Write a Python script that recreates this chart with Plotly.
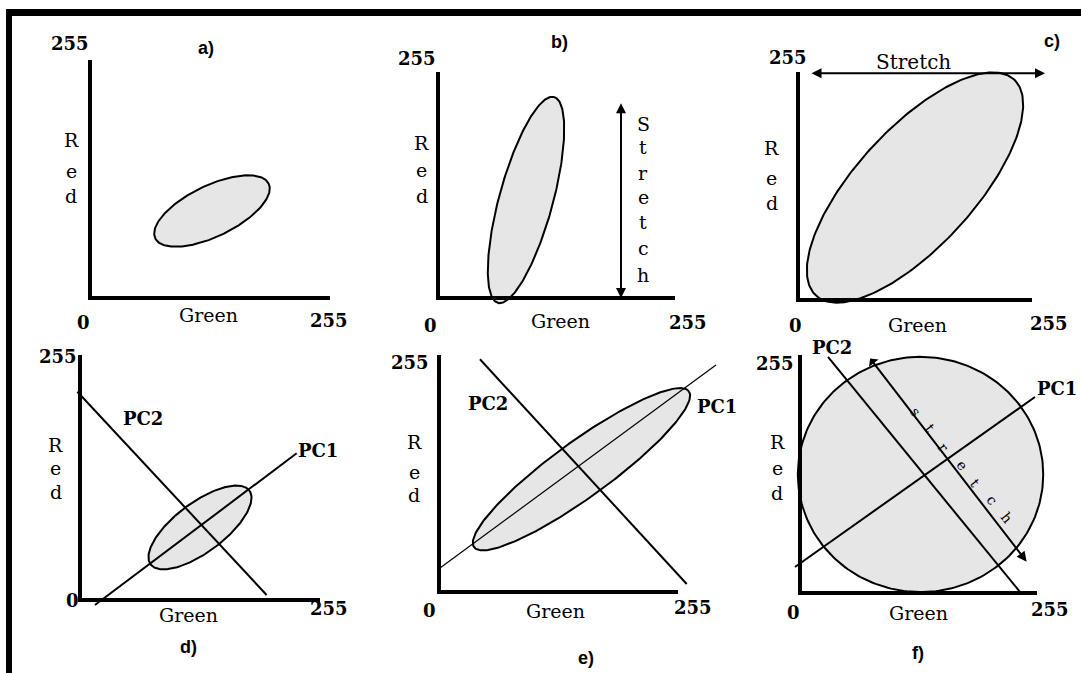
import numpy as np
import plotly.graph_objects as go

W, H = 1081, 673
PANELS = ["a", "b", "c", "d", "e", "f"]

# ---- data (0-255 Green/Red scale) ----
ELL_CX = [129.6, 94.7, 127.5, 127.5, 152.0, 129.7]
ELL_CY = [93.2, 110.6, 125.8, 75.5, 132.1, 127.0]
ELL_A = [67.0, 120.0, 162.0, 65.0, 142.0, 132.0]
ELL_B = [27.3, 29.0, 65.0, 26.0, 30.0, 126.0]
ELL_ANGLE = [26.0, 75.5, 48.5, 36.0, 36.2, 0.0]

PC_PANELS = ["d", "e", "f"]
PC1_X = [[15.9, 230.2], [0.7, 295.5], [-5.4, 252.8]]
PC1_Y = [[-5.2, 152.7], [25.5, 244.2], [27.9, 210.0]]
PC2_X = [[-2.8, 198.3], [43.7, 264.3], [30.1, 236.7]]
PC2_Y = [[216.8, 5.2], [250.4, 8.6], [252.9, 1.1]]

STRETCH_PANELS = ["b", "c", "f"]
STRETCH_X = [[196.9, 196.9], [13.1, 269.2], [74.2, 243.9]]
STRETCH_Y = [[221.5, 0.0], [253.5, 253.5], [252.9, 33.5]]

AXIS_MAX = 255
TICK_MIN_LABEL = "0"
TICK_MAX_LABEL = "255"
X_TITLE = "Green"
Y_TITLE_LETTERS = ["R", "e", "d"]
STRETCH_WORD = "Stretch"

# ---- layout: pixel frames of each panel's axes (x0, x1, y0(bottom), y1(top)) ----
FRAME = {
    "a": (90, 330, 298, 60),
    "b": (438, 675, 298, 72),
    "c": (798, 1032, 300, 72),
    "d": (80, 320, 600, 355),
    "e": (439, 678, 592, 355),
    "f": (800, 1037, 593, 355),
}

# label positions per panel (data units)
LBL = {
    "a": dict(ymax=(-21.2, 272.7), panel=(123.3, 267.9), red_x=-19.7, red_y=[169.3, 136.1, 108.9],
              zero=(-6.4, -26.3), green=(126.4, -17.7), xmax=(253.9, -23.6)),
    "b": dict(ymax=(-22.9, 270.5), panel=(130.2, 289.2), red_x=-17.5, red_y=[174.5, 144.4, 115.3],
              zero=(-7.7, -31.4), green=(132.1, -25.7), xmax=(269.3, -27.6)),
    "c": dict(ymax=(-11.4, 271.2), panel=(276.8, 289.9), red_x=-28.7, red_y=[169.7, 136.1, 108.2],
              zero=(-2.2, -28.9), green=(130.2, -28.0), xmax=(273.5, -26.1)),
    "d": dict(ymax=(-23.9, 253.3), panel=(115.8, -48.6), red_x=-25.7, red_y=[161.3, 137.9, 111.9],
              zero=(-8.0, 0.0), green=(115.1, -15.6), xmax=(264.6, -8.7)),
    "e": dict(ymax=(-30.9, 246.9), panel=(156.6, -71.3), red_x=-26.5, red_y=[160.9, 129.4, 104.4],
              zero=(-10.5, -20.2), green=(123.8, -20.2), xmax=(271.3, -16.7)),
    "f": dict(ymax=(-26.9, 246.1), panel=(127.0, -64.3), red_x=-24.7, red_y=[161.8, 133.9, 107.1],
              zero=(-6.5, -21.4), green=(127.0, -21.4), xmax=(268.9, -18.2)),
}
PC_LABEL_POS = {"d": [(253.2, 156.1), (67.3, 189.1)],
                "e": [(296.1, 199.4), (52.6, 203.0)],
                "f": [(277.0, 219.6), (34.1, 263.0)]}
B_STRETCH_X = 221.0
B_STRETCH_Y = [196.0, 170.7, 140.7, 114.3, 86.1, 56.1, 25.9]
C_STRETCH_POS = (126.4, 266.5)
F_STRETCH_LETTERS = ["s", "t", "r", "e", "t", "c", "h"]
F_STRETCH_X = [124.8, 139.9, 153.9, 174.3, 188.3, 206.6, 222.7]
F_STRETCH_Y = [193.9, 176.8, 156.4, 137.1, 117.9, 99.6, 80.4]

SERIF = "DejaVu Serif"
SANS = "Liberation Sans"
FILL = "rgb(230,230,230)"

fig = go.Figure()
layout_axes = {}


def ax_names(i):
    s = "" if i == 0 else str(i + 1)
    return "x" + s, "y" + s, "xaxis" + s, "yaxis" + s


for i, p in enumerate(PANELS):
    xr, yr, xk, yk = ax_names(i)
    x0, x1, y0, y1 = FRAME[p]
    sx = (x1 - x0) / AXIS_MAX
    sy = (y0 - y1) / AXIS_MAX
    # every panel spans the whole page; range chosen so 0..255 lands on the panel frame
    layout_axes[xk] = dict(domain=[0, 1], range=[-x0 / sx, (W - x0) / sx],
                           visible=False, fixedrange=True)
    layout_axes[yk] = dict(domain=[0, 1], range=[(y0 - H) / sy, y0 / sy],
                           visible=False, fixedrange=True)

    # ellipse
    t = np.linspace(0, 2 * np.pi, 240)
    th = np.deg2rad(ELL_ANGLE[i])
    ex = ELL_CX[i] + ELL_A[i] * np.cos(t) * np.cos(th) - ELL_B[i] * np.sin(t) * np.sin(th)
    ey = ELL_CY[i] + ELL_A[i] * np.cos(t) * np.sin(th) + ELL_B[i] * np.sin(t) * np.cos(th)
    fig.add_trace(go.Scatter(x=ex, y=ey, mode="lines", fill="toself", fillcolor=FILL,
                             line=dict(color="black", width=2), xaxis=xr, yaxis=yr,
                             hoverinfo="skip"))

    # PC lines
    if p in PC_PANELS:
        k = PC_PANELS.index(p)
        lw1 = 1.2 if p == "e" else 2
        fig.add_trace(go.Scatter(x=PC1_X[k], y=PC1_Y[k], mode="lines",
                                 line=dict(color="black", width=lw1), xaxis=xr, yaxis=yr,
                                 hoverinfo="skip"))
        fig.add_trace(go.Scatter(x=PC2_X[k], y=PC2_Y[k], mode="lines",
                                 line=dict(color="black", width=2), xaxis=xr, yaxis=yr,
                                 hoverinfo="skip"))

    # axis lines
    fig.add_trace(go.Scatter(x=[0, 0, AXIS_MAX], y=[AXIS_MAX, 0, 0], mode="lines",
                             line=dict(color="black", width=4), xaxis=xr, yaxis=yr,
                             hoverinfo="skip"))

fig.update_layout(**layout_axes)

ann = []


def txt(text, x, y, xr, yr, size=17, family=SERIF, weight="normal", angle=0):
    ann.append(dict(text=text, x=x, y=y, xref=xr, yref=yr, showarrow=False,
                    xanchor="center", yanchor="middle", textangle=angle,
                    font=dict(family=family, size=size, color="black", weight=weight)))


for i, p in enumerate(PANELS):
    xr, yr, _, _ = ax_names(i)
    L = LBL[p]
    txt(TICK_MAX_LABEL, *L["ymax"], xr, yr, size=18, weight="bold")
    txt(TICK_MIN_LABEL, *L["zero"], xr, yr, size=18, weight="bold")
    txt(TICK_MAX_LABEL, *L["xmax"], xr, yr, size=18, weight="bold")
    txt(X_TITLE, *L["green"], xr, yr, size=19)
    for ch, yy in zip(Y_TITLE_LETTERS, L["red_y"]):
        txt(ch, L["red_x"], yy, xr, yr, size=19)
    txt(p + ")", *L["panel"], xr, yr, size=18, family=SANS, weight="bold")
    if p in PC_LABEL_POS:
        (x1_, y1_), (x2_, y2_) = PC_LABEL_POS[p]
        txt("PC1", x1_, y1_, xr, yr, size=18, weight="bold")
        txt("PC2", x2_, y2_, xr, yr, size=18, weight="bold")

# stretch arrows
for k, p in enumerate(STRETCH_PANELS):
    i = PANELS.index(p)
    xr, yr, _, _ = ax_names(i)
    ann.append(dict(x=STRETCH_X[k][1], y=STRETCH_Y[k][1], ax=STRETCH_X[k][0], ay=STRETCH_Y[k][0],
                    xref=xr, yref=yr, axref=xr, ayref=yr, text="", showarrow=True,
                    arrowhead=2, startarrowhead=(1 if p == "f" else 2), arrowside="end+start",
                    arrowsize=1, startarrowsize=1, arrowwidth=2, arrowcolor="black",
                    standoff=0, startstandoff=0))

xr, yr, _, _ = ax_names(PANELS.index("b"))
for ch, yy in zip(STRETCH_WORD, B_STRETCH_Y):
    txt(ch, B_STRETCH_X, yy, xr, yr, size=19)
xr, yr, _, _ = ax_names(PANELS.index("c"))
txt(STRETCH_WORD, *C_STRETCH_POS, xr, yr, size=20)
xr, yr, _, _ = ax_names(PANELS.index("f"))
for ch, xx, yy in zip(F_STRETCH_LETTERS, F_STRETCH_X, F_STRETCH_Y):
    txt(ch, xx, yy, xr, yr, size=14, angle=52)

# frame border (top and left)
shapes = [
    dict(type="rect", xref="paper", yref="paper", x0=6 / W, x1=1.0, y0=1 - 16 / H, y1=1 - 9 / H,
         fillcolor="black", line=dict(width=0)),
    dict(type="rect", xref="paper", yref="paper", x0=6 / W, x1=12 / W, y0=0, y1=1 - 9 / H,
         fillcolor="black", line=dict(width=0)),
]

fig.update_layout(width=W, height=H, margin=dict(l=0, r=0, t=0, b=0),
                  paper_bgcolor="white", plot_bgcolor="rgba(0,0,0,0)",
                  showlegend=False, annotations=ann, shapes=shapes)

fig.write_html("out.html")
